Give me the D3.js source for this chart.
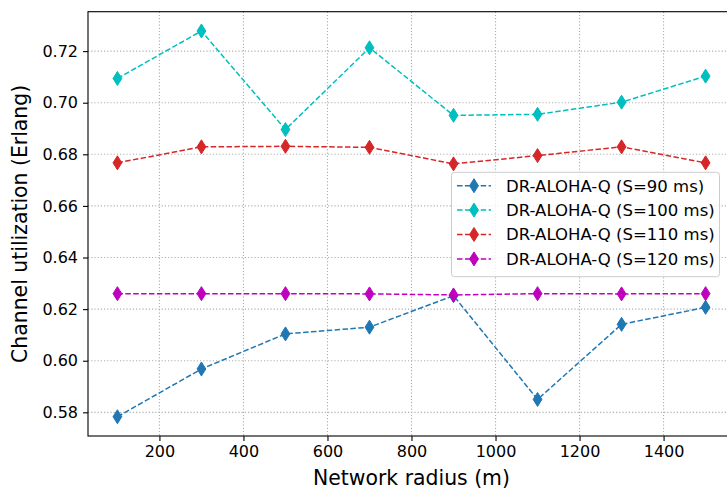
<!DOCTYPE html>
<html>
<head>
<meta charset="utf-8">
<script src="https://cdn.jsdelivr.net/npm/d3@7"></script>
<style>
  body { margin: 0; background: #fff; }
  text { font-family: "DejaVu Sans", sans-serif; fill: #000; }
</style>
</head>
<body>
<div id="chart"></div>
<script>
// network radius (m)
const radius = [100, 300, 500, 700, 900, 1100, 1300, 1500];

// channel utilization per slot length
const s90  = [0.5783, 0.5968, 0.6104, 0.6130, 0.6252, 0.5850, 0.6141, 0.6207];
const s100 = [0.7094, 0.7278, 0.6896, 0.7213, 0.6951, 0.6955, 0.7002, 0.7103];
const s110 = [0.6767, 0.6829, 0.6831, 0.6827, 0.6763, 0.6795, 0.6829, 0.6767];
const s120 = [0.6260, 0.6260, 0.6260, 0.6259, 0.6255, 0.6260, 0.6259, 0.6260];

const seriesNames = ["DR-ALOHA-Q (S=90 ms)", "DR-ALOHA-Q (S=100 ms)", "DR-ALOHA-Q (S=110 ms)", "DR-ALOHA-Q (S=120 ms)"];
const seriesColors = ["#1f77b4", "#00bfbf", "#d62728", "#bf00bf"];
const xTicks = [200, 400, 600, 800, 1000, 1200, 1400];
const yTicks = [0.58, 0.60, 0.62, 0.64, 0.66, 0.68, 0.70, 0.72];

const W = 727, H = 488;
const pL = 88, pT = 11.7, pR = 735, pB = 436;

const series = [s90, s100, s110, s120];

//matplotlib style 5% margins
const allY = series.flat();
const ymin = d3.min(allY), ymax = d3.max(allY);
const ypad = (ymax - ymin) * 0.05;
const xpad = (d3.max(radius) - d3.min(radius)) * 0.05;

const x = d3.scaleLinear().domain([d3.min(radius) - xpad, d3.max(radius) + xpad]).range([pL, pR]);
const y = d3.scaleLinear().domain([ymin - ypad, ymax + ypad]).range([pB, pT]);

const svg = d3.select("#chart").append("svg").attr("width", W).attr("height", H);

//grid
const grid = svg.append("g");
grid.selectAll(".gx").data(xTicks).enter().append("line")
    .attr("x1", d => x(d)).attr("x2", d => x(d))
    .attr("y1", pT).attr("y2", pB)
    .attr("stroke", "#b0b0b0").attr("stroke-width", 1.1).attr("stroke-dasharray", "1.2,2");
grid.selectAll(".gy").data(yTicks).enter().append("line")
    .attr("x1", pL).attr("x2", pR)
    .attr("y1", d => y(d)).attr("y2", d => y(d))
    .attr("stroke", "#b0b0b0").attr("stroke-width", 1.1).attr("stroke-dasharray", "1.2,2");

//axes
const xAxis = d3.axisBottom(x).tickValues(xTicks).tickSize(5).tickPadding(5).tickFormat(d3.format("d"));
const yAxis = d3.axisLeft(y).tickValues(yTicks).tickSize(5).tickPadding(5).tickFormat(d3.format(".2f"));

const gx = svg.append("g").attr("transform", `translate(0,${pB})`).call(xAxis);
const gy = svg.append("g").attr("transform", `translate(${pL},0)`).call(yAxis);
[gx, gy].forEach(g => {
    g.select(".domain").remove();
    g.selectAll("line").attr("stroke", "#000").attr("stroke-width", 1.1);
    g.selectAll("text").style("font-size", "16px").style("font-family", "DejaVu Sans");
});

//spines
svg.append("rect")
    .attr("x", pL).attr("y", pT)
    .attr("width", pR - pL).attr("height", pB - pT)
    .attr("fill", "none").attr("stroke", "#000").attr("stroke-width", 1.1);

//lines and markers
const line = d3.line().x((d, i) => x(radius[i])).y(d => y(d));
const diamond = (cx, cy) => `M${cx},${cy - 7}L${cx + 4.4},${cy}L${cx},${cy + 7}L${cx - 4.4},${cy}Z`;

series.forEach((vals, k) => {
    svg.append("path")
        .datum(vals)
        .attr("d", line)
        .attr("fill", "none")
        .attr("stroke", seriesColors[k])
        .attr("stroke-width", 1.5)
        .attr("stroke-dasharray", "5.5,2.4");
    svg.append("g").selectAll("path").data(vals).enter().append("path")
        .attr("d", (d, i) => diamond(x(radius[i]), y(d)))
        .attr("fill", seriesColors[k])
        .attr("stroke", seriesColors[k])
        .attr("stroke-width", 1);
});

//axis labels
svg.append("text")
    .attr("x", (pL + pR) / 2).attr("y", 484.5)
    .attr("text-anchor", "middle")
    .style("font-size", "20.4px")
    .text("Network radius (m)");

svg.append("text")
    .attr("transform", `translate(27,${(pT + pB) / 2}) rotate(-90)`)
    .attr("text-anchor", "middle")
    .style("font-size", "20.4px")
    .text("Channel utilization (Erlang)");

//legend
const leg = svg.append("g");
leg.append("rect")
    .attr("x", 451.5).attr("y", 172.3)
    .attr("width", 268).attr("height", 104.4)
    .attr("rx", 3).attr("ry", 3)
    .attr("fill", "#fff").attr("fill-opacity", 0.8)
    .attr("stroke", "#cccccc").attr("stroke-width", 1);

seriesNames.forEach((name, k) => {
    const ry = 185.7 + k * 24.4;
    leg.append("line")
        .attr("x1", 457).attr("x2", 491)
        .attr("y1", ry).attr("y2", ry)
        .attr("stroke", seriesColors[k]).attr("stroke-width", 1.5)
        .attr("stroke-dasharray", "5.5,2.4");
    leg.append("path")
        .attr("d", diamond(474, ry))
        .attr("fill", seriesColors[k]).attr("stroke", seriesColors[k]).attr("stroke-width", 1);
    leg.append("text")
        .attr("x", 506).attr("y", ry)
        .attr("dy", "0.36em")
        .style("font-size", "16.5px")
        .text(name);
});
</script>
</body>
</html>
